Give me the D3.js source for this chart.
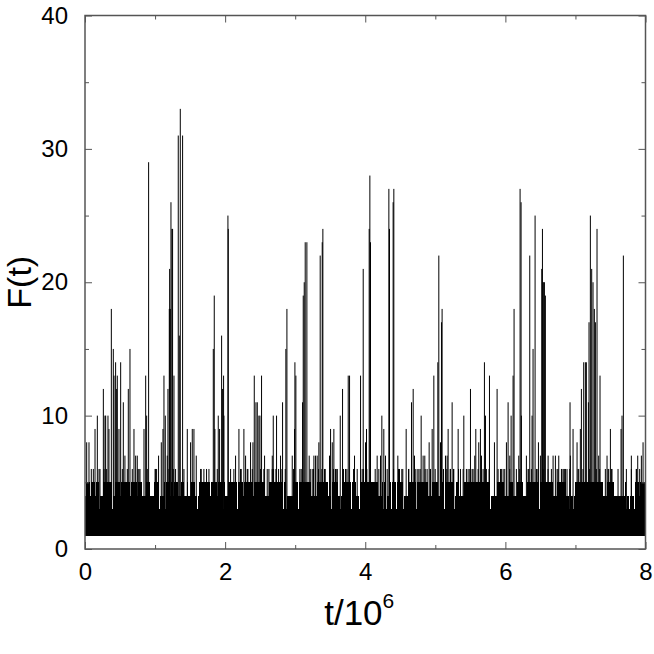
<!DOCTYPE html>
<html>
<head>
<meta charset="utf-8">
<script src="https://cdn.jsdelivr.net/npm/d3@7"></script>
<style>
  body { margin: 0; background: #fff; }
  text { font-family: "Liberation Sans", Arial, Helvetica, sans-serif; fill: #000; }
</style>
</head>
<body>
<div id="chart"></div>
<script>

// ---- data ----
var xTicks = [0, 2, 4, 6, 8];
var xMinor = [1, 3, 5, 7];
var yTicks = [0, 10, 20, 30, 40];
var yMinor = [5, 15, 25, 35];

var floorValue = 1;   // signal never goes below this
var bandTop = 4;      // dense band reaches 4 almost everywhere

// t (x10^6) where the local maximum only reaches 3
var dips3 = [0.214, 0.39, 1.06, 1.151, 1.602, 1.983, 2.173, 2.834, 2.882, 3.048,
             3.524, 3.643, 3.809, 3.914, 4.261, 4.309, 4.38, 4.442, 4.546, 4.736,
             5.131, 5.274, 5.787, 6.49, 6.909, 6.975, 7.727, 7.774, 7.845];

// t spans where the maximum stays at 4 (no level-5 excursions)
var gaps4 = [[0.01, 0.01], [0.08, 0.08], [0.152, 0.152], [0.224, 0.252], [0.39, 0.414],
             [0.509, 0.509], [0.651, 0.651], [0.746, 0.746], [0.818, 0.865], [0.937, 0.984],
             [1.07, 1.127], [1.222, 1.222], [1.27, 1.27], [1.34, 1.37], [1.42, 1.45],
             [1.48, 1.5], [1.579, 1.626], [1.793, 1.793], [1.888, 1.888], [2.006, 2.03],
             [2.173, 2.173], [2.268, 2.268], [2.411, 2.411], [2.578, 2.625], [2.896, 2.963],
             [3.048, 3.048], [3.239, 3.31], [3.477, 3.524], [3.619, 3.667], [3.88, 3.914],
             [4.19, 4.237], [4.309, 4.332], [4.55, 4.6], [4.903, 4.95], [5.046, 5.093],
             [5.26, 5.283], [5.349, 5.397], [5.801, 5.872], [5.991, 6.038], [6.11, 6.157],
             [6.252, 6.3], [6.49, 6.49], [6.68, 6.728], [6.87, 6.99], [7.394, 7.441],
             [7.56, 7.703], [7.727, 7.822], [7.917, 7.917]];

// t of spikes that just reach 6
var sixes = [0.119, 0.2, 0.271, 0.309, 0.533, 0.675, 0.756, 0.785, 0.889, 1.008, 1.198,
             1.26, 1.293, 1.659, 1.697, 1.735, 1.769, 1.888, 2.125, 2.22, 2.316, 2.387,
             2.506, 2.553, 2.625, 2.672, 2.692, 2.725, 2.763, 2.811, 2.858, 2.977, 3.086,
             3.215, 3.262, 3.334, 3.381, 3.429, 3.548, 3.595, 3.69, 3.738, 3.833, 3.976,
             4.023, 4.071, 4.142, 4.404, 4.475, 4.522, 4.618, 4.713, 4.784, 4.855, 4.927,
             4.998, 5.117, 5.164, 5.212, 5.26, 5.331, 5.397, 5.444, 5.492, 5.539, 5.611,
             5.682, 5.729, 5.767, 5.896, 5.943, 5.991, 6.062, 6.157, 6.205, 6.324, 6.371,
             6.443, 6.538, 6.609, 6.657, 6.752, 6.8, 6.847, 6.918, 7.037, 7.108, 7.203,
             7.298, 7.346, 7.465, 7.513, 7.608, 7.727, 7.798, 7.869];

// taller spikes: [t, F]
var peaks = [
  [0.024, 8], [0.057, 8], [0.09, 6], [0.143, 9], [0.176, 10], [0.214, 6], [0.262, 12],
  [0.285, 10], [0.295, 10], [0.328, 10], [0.342, 9], [0.376, 18], [0.404, 15], [0.414, 13],
  [0.437, 14], [0.452, 12], [0.461, 13], [0.485, 9], [0.509, 14], [0.547, 11], [0.57, 7],
  [0.604, 6], [0.618, 12], [0.642, 15], [0.699, 9], [0.723, 7], [0.746, 7], [0.77, 6],
  [0.842, 9], [0.866, 13], [0.88, 10], [0.908, 29],
  [1.0, 6], [1.022, 6], [1.05, 7], [1.089, 8], [1.113, 9], [1.127, 13], [1.146, 10],
  [1.174, 7], [1.184, 12], [1.203, 18], [1.208, 21], [1.218, 18], [1.227, 26], [1.241, 24],
  [1.25, 24], [1.27, 13], [1.331, 31], [1.346, 16], [1.36, 33], [1.393, 31], [1.412, 6],
  [1.46, 9], [1.507, 8], [1.531, 9], [1.555, 9], [1.588, 7], [1.65, 6], [1.831, 15],
  [1.845, 19], [1.854, 9], [1.902, 10], [1.921, 9], [1.95, 16], [1.964, 12], [1.978, 13],
  [1.983, 10],
  [2.04, 25], [2.045, 24], [2.078, 6], [2.149, 7], [2.197, 9], [2.23, 6], [2.268, 9],
  [2.292, 7], [2.325, 6], [2.363, 8], [2.397, 8], [2.416, 13], [2.44, 11], [2.459, 11],
  [2.482, 10], [2.497, 10], [2.52, 13], [2.563, 7], [2.601, 6], [2.673, 7], [2.687, 10],
  [2.734, 10], [2.791, 7], [2.82, 11], [2.867, 15], [2.882, 18], [2.958, 7], [2.991, 9],
  [2.996, 14], [3.01, 13], [3.067, 6], [3.105, 11], [3.115, 19], [3.129, 20], [3.143, 23],
  [3.167, 23], [3.2, 7], [3.243, 6], [3.267, 7], [3.291, 7], [3.314, 7], [3.338, 8],
  [3.357, 22], [3.386, 23], [3.395, 24], [3.419, 6], [3.49, 7], [3.505, 9], [3.529, 8],
  [3.552, 9], [3.576, 6], [3.6, 6], [3.643, 10], [3.676, 12], [3.719, 6], [3.757, 13],
  [3.776, 13], [3.847, 7], [3.885, 6], [3.933, 13], [3.956, 6], [3.971, 21],
  [4.004, 8], [4.018, 9], [4.056, 24], [4.066, 28], [4.075, 23], [4.17, 7], [4.194, 6],
  [4.218, 7], [4.237, 10], [4.265, 9], [4.289, 7], [4.313, 6], [4.337, 27], [4.346, 24],
  [4.398, 26], [4.408, 27], [4.465, 7], [4.489, 6], [4.536, 6], [4.584, 9], [4.622, 6],
  [4.66, 11], [4.684, 12], [4.703, 7], [4.741, 6], [4.765, 6], [4.798, 10], [4.826, 7],
  [4.85, 7], [4.883, 6], [4.912, 8], [4.931, 6], [4.955, 9], [4.979, 13],
  [5.036, 14], [5.05, 22], [5.074, 8], [5.088, 17], [5.097, 18], [5.145, 7], [5.169, 7],
  [5.183, 9], [5.216, 6], [5.24, 11], [5.264, 6], [5.326, 9], [5.359, 6], [5.407, 10],
  [5.468, 6], [5.502, 12], [5.525, 6], [5.563, 7], [5.578, 9], [5.62, 8], [5.644, 9],
  [5.659, 7], [5.701, 14], [5.716, 10], [5.773, 13], [5.844, 8], [5.882, 12], [5.93, 6],
  [5.968, 6],
  [6.015, 8], [6.039, 11], [6.063, 7], [6.082, 10], [6.11, 13], [6.124, 18], [6.191, 7],
  [6.21, 27], [6.224, 26], [6.229, 10], [6.3, 7], [6.334, 6], [6.348, 22], [6.381, 10],
  [6.395, 15], [6.424, 25], [6.453, 6], [6.472, 8], [6.5, 7], [6.519, 21], [6.529, 24],
  [6.538, 20], [6.548, 20], [6.557, 20], [6.571, 19], [6.61, 7], [6.681, 7], [6.714, 7],
  [6.738, 6], [6.762, 7], [6.809, 6], [6.833, 6], [6.857, 6], [6.88, 6], [6.923, 11],
  [6.928, 7], [6.966, 9],
  [7.023, 8], [7.047, 6], [7.07, 9], [7.085, 12], [7.118, 14], [7.142, 14], [7.156, 14],
  [7.185, 11], [7.194, 17], [7.213, 25], [7.232, 21], [7.251, 20], [7.27, 18], [7.285, 17],
  [7.308, 24], [7.332, 7], [7.351, 13], [7.427, 6], [7.451, 7], [7.475, 6], [7.499, 9],
  [7.522, 6], [7.651, 9], [7.665, 10], [7.684, 22], [7.798, 7], [7.87, 6], [7.889, 7],
  [7.917, 6], [7.941, 7], [7.965, 8]
];

// ---- drawing ----
var width = 654, height = 654;
var frameColor = "#555";

var x = d3.scaleLinear().domain([0, 8]).range([85, 645.5]);
var y = d3.scaleLinear().domain([0, 40]).range([549, 15.5]);

var svg = d3.select("#chart").append("svg")
    .attr("width", width)
    .attr("height", height);

// cut the range [0,8] into solid pieces around the given holes (in pixels)
function solidSpans(holes) {
    var hs = holes.map(h => [x(h[0]) - 0.5, x(h[1]) + 0.5])
                  .sort((a, b) => a[0] - b[0]);
    var spans = [], start = x.range()[0];
    hs.forEach(h => {
        if (h[0] > start) spans.push([start, h[0]]);
        start = Math.max(start, h[1]);
    });
    if (start < x.range()[1]) spans.push([start, x.range()[1]]);
    return spans;
}

var plot = svg.append("g");

// solid part 1..3
plot.append("rect")
    .attr("x", x(0)).attr("width", x(8) - x(0))
    .attr("y", y(bandTop - 1)).attr("height", y(floorValue) - y(bandTop - 1))
    .attr("fill", "#000").attr("shape-rendering", "crispEdges");

// 3..4 with the dips left open
var dipHoles = dips3.map(t => [t, t]);
plot.selectAll(".b4").data(solidSpans(dipHoles)).enter().append("rect")
    .attr("class", "b4")
    .attr("x", d => d[0]).attr("width", d => d[1] - d[0])
    .attr("y", y(bandTop)).attr("height", y(bandTop - 1) - y(bandTop))
    .attr("fill", "#000").attr("shape-rendering", "crispEdges");

// 4..5 with the gaps and dips left open
plot.selectAll(".b5").data(solidSpans(dipHoles.concat(gaps4))).enter().append("rect")
    .attr("class", "b5")
    .attr("x", d => d[0]).attr("width", d => d[1] - d[0])
    .attr("y", y(bandTop + 1)).attr("height", y(bandTop) - y(bandTop + 1))
    .attr("fill", "#000").attr("shape-rendering", "crispEdges");

// spikes reaching 6
plot.selectAll(".s6").data(sixes).enter().append("line")
    .attr("class", "s6")
    .attr("x1", d => x(d)).attr("x2", d => x(d))
    .attr("y1", y(floorValue)).attr("y2", y(6))
    .attr("stroke", "#000").attr("stroke-width", 1);

// taller spikes
plot.selectAll(".pk").data(peaks).enter().append("line")
    .attr("class", "pk")
    .attr("x1", d => x(d[0])).attr("x2", d => x(d[0]))
    .attr("y1", y(floorValue)).attr("y2", d => y(d[1]))
    .attr("stroke", "#000").attr("stroke-width", 1);

// ---- axes: ticks point inward on all four sides ----
function styleAxis(g) {
    g.select(".domain").remove();
    g.selectAll("line").attr("stroke", frameColor);
    g.selectAll("text").attr("font-size", 24)
        .attr("font-family", '"Liberation Sans", Arial, sans-serif');
}

svg.append("g").attr("transform", "translate(0," + y(0) + ")")
    .call(d3.axisBottom(x).tickValues(xTicks).tickSize(-7).tickPadding(14).tickFormat(d3.format("d")))
    .call(styleAxis);
svg.append("g").attr("transform", "translate(0," + y(0) + ")")
    .call(d3.axisBottom(x).tickValues(xMinor).tickSize(-4).tickFormat(""))
    .call(styleAxis);
svg.append("g").attr("transform", "translate(0," + y(40) + ")")
    .call(d3.axisTop(x).tickValues(xTicks).tickSize(-7).tickFormat(""))
    .call(styleAxis);
svg.append("g").attr("transform", "translate(0," + y(40) + ")")
    .call(d3.axisTop(x).tickValues(xMinor).tickSize(-4).tickFormat(""))
    .call(styleAxis);

svg.append("g").attr("transform", "translate(" + x(0) + ",0)")
    .call(d3.axisLeft(y).tickValues(yTicks).tickSize(-7).tickPadding(17).tickFormat(d3.format("d")))
    .call(styleAxis);
svg.append("g").attr("transform", "translate(" + x(0) + ",0)")
    .call(d3.axisLeft(y).tickValues(yMinor).tickSize(-4).tickFormat(""))
    .call(styleAxis);
svg.append("g").attr("transform", "translate(" + x(8) + ",0)")
    .call(d3.axisRight(y).tickValues(yTicks).tickSize(-7).tickFormat(""))
    .call(styleAxis);
svg.append("g").attr("transform", "translate(" + x(8) + ",0)")
    .call(d3.axisRight(y).tickValues(yMinor).tickSize(-4).tickFormat(""))
    .call(styleAxis);

// frame
svg.append("rect")
    .attr("x", x(0)).attr("y", y(40))
    .attr("width", x(8) - x(0)).attr("height", y(0) - y(40))
    .attr("fill", "none").attr("stroke", frameColor).attr("stroke-width", 1.5);

// axis titles
svg.append("text")
    .attr("transform", "translate(31," + ((y(0) + y(40)) / 2) + ") rotate(-90)")
    .attr("text-anchor", "middle")
    .attr("font-size", 34)
    .text("F(t)");

var xt = svg.append("text")
    .attr("x", (x(0) + x(8)) / 2 - 6)
    .attr("y", 625)
    .attr("text-anchor", "middle")
    .attr("font-size", 35);
xt.append("tspan").text("t/10");
xt.append("tspan").attr("dy", -17).attr("font-size", 21).text("6");

</script>
</body>
</html>
